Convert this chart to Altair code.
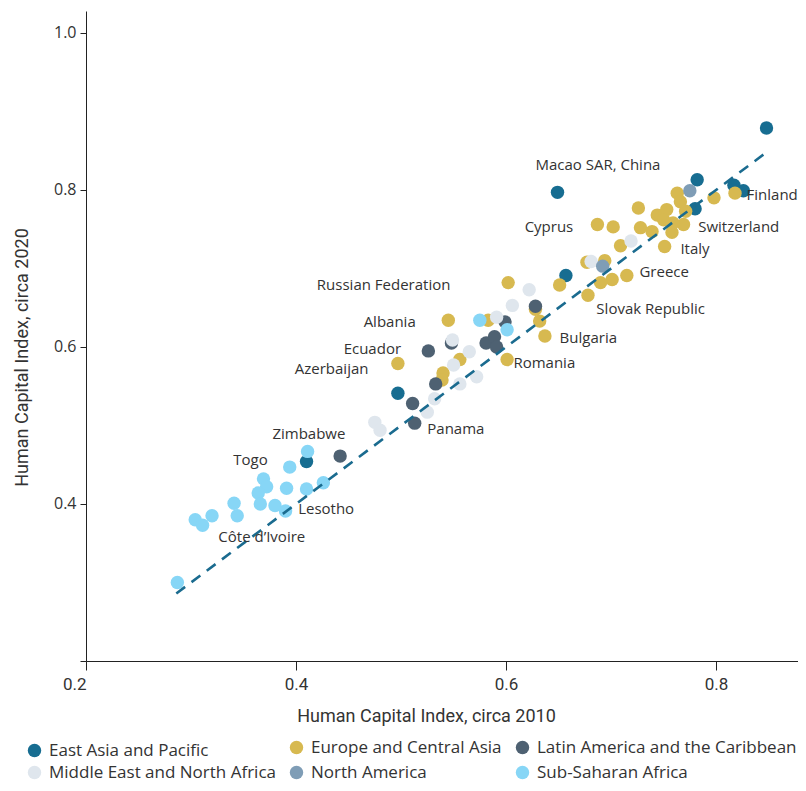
import altair as alt
import pandas as pd

regions = [
    "East Asia and Pacific",
    "Europe and Central Asia",
    "Latin America and the Caribbean",
    "Middle East and North Africa",
    "North America",
    "Sub-Saharan Africa",
]
colors = ["#176d91", "#d7b950", "#4e6172", "#dfe6ed", "#7f9db6", "#87d6f6"]
# legend columns (indices into regions), read row by row in the reference
legend_cols = [[0, 3], [1, 4], [2, 5]]

eap_x = [0.848, 0.782, 0.817, 0.826, 0.780, 0.649, 0.657, 0.497, 0.410]
eap_y = [0.879, 0.813, 0.806, 0.799, 0.776, 0.797, 0.691, 0.541, 0.454]

eca_x = [0.763, 0.766, 0.798, 0.818, 0.726, 0.744, 0.753, 0.771, 0.769, 0.758,
         0.759, 0.750, 0.687, 0.702, 0.728, 0.739, 0.709, 0.751, 0.677, 0.694,
         0.715, 0.701, 0.690, 0.651, 0.678, 0.628, 0.632, 0.637, 0.602, 0.545,
         0.583, 0.601, 0.497, 0.556, 0.540, 0.539]
eca_y = [0.796, 0.785, 0.790, 0.796, 0.777, 0.768, 0.775, 0.773, 0.756, 0.746,
         0.758, 0.762, 0.756, 0.753, 0.752, 0.747, 0.729, 0.728, 0.708, 0.710,
         0.691, 0.686, 0.682, 0.679, 0.666, 0.648, 0.633, 0.614, 0.682, 0.634,
         0.634, 0.584, 0.579, 0.584, 0.567, 0.558]

lac_x = [0.628, 0.526, 0.548, 0.581, 0.589, 0.591, 0.599, 0.533, 0.511, 0.513, 0.442]
lac_y = [0.652, 0.595, 0.605, 0.605, 0.613, 0.600, 0.632, 0.553, 0.528, 0.503, 0.461]

mena_x = [0.622, 0.719, 0.681, 0.606, 0.591, 0.549, 0.565, 0.550, 0.572, 0.556,
          0.532, 0.525, 0.475, 0.480]
mena_y = [0.673, 0.735, 0.709, 0.653, 0.638, 0.609, 0.594, 0.577, 0.562, 0.553,
          0.534, 0.517, 0.504, 0.494]

na_x = [0.775, 0.692]
na_y = [0.799, 0.703]

ssa_x = [0.575, 0.601, 0.411, 0.394, 0.369, 0.372, 0.364, 0.366, 0.341, 0.344,
         0.320, 0.304, 0.311, 0.391, 0.380, 0.390, 0.410, 0.426, 0.287]
ssa_y = [0.634, 0.622, 0.467, 0.447, 0.432, 0.422, 0.414, 0.400, 0.401, 0.385,
         0.385, 0.380, 0.373, 0.420, 0.398, 0.391, 0.419, 0.427, 0.300]

label_left = ["Macao SAR, China", "Finland", "Switzerland", "Italy", "Greece",
              "Slovak Republic", "Bulgaria", "Romania", "Panama", "Lesotho",
              "Côte d’Ivoire"]
label_left_x = [0.628, 0.829, 0.783, 0.766, 0.727, 0.686, 0.651, 0.607, 0.525, 0.402, 0.326]
label_left_y = [0.832, 0.794, 0.753, 0.725, 0.696, 0.649, 0.611, 0.579, 0.495, 0.394, 0.358]

label_right = ["Cyprus", "Russian Federation", "Albania", "Ecuador", "Azerbaijan",
               "Zimbabwe", "Togo"]
label_right_x = [0.664, 0.547, 0.514, 0.500, 0.469, 0.447, 0.373]
label_right_y = [0.753, 0.679, 0.632, 0.598, 0.572, 0.489, 0.456]

diag_v = [0.286, 0.848]

rows = []
for reg, xs, ys in zip(regions,
                       [eap_x, eca_x, lac_x, mena_x, na_x, ssa_x],
                       [eap_y, eca_y, lac_y, mena_y, na_y, ssa_y]):
    for a, b in zip(xs, ys):
        rows.append({"region": reg, "hci2010": a, "hci2020": b})
df = pd.DataFrame(rows)

left_df = pd.DataFrame({"t": label_left, "x": label_left_x, "y": label_left_y})
right_df = pd.DataFrame({"t": label_right, "x": label_right_x, "y": label_right_y})
diag_df = pd.DataFrame({"x": diag_v, "y": diag_v})

xscale = alt.Scale(domain=[0.2, 0.878], nice=False, zero=False)
yscale = alt.Scale(domain=[0.2, 1.028], nice=False, zero=False)

xaxis = alt.Axis(
    values=[0.2, 0.4, 0.6, 0.8], grid=False,
    labelExpr="datum.value === 0.2 ? '0.2\u00a0' : format(datum.value, '.1f')",
    title="Human Capital Index, circa 2010",
    tickSize=9, labelPadding=6, labelFont="Roboto", labelFontSize=17,
    labelColor="#333333", titleFont="Roboto", titleFontSize=18,
    titleFontWeight="normal", titleColor="#333333",
    titleX=340, titleY=55, titleBaseline="middle", titleAlign="center",
    labelAlign={"condition": {"test": "datum.value === 0.2", "value": "right"}, "value": "center"},
    domainColor="#222222", tickColor="#222222",
)
yaxis = alt.Axis(
    values=[0.2, 0.4, 0.6, 0.8, 1.0], grid=False,
    labelExpr="datum.value === 0.2 ? '' : format(datum.value, '.1f')",
    title="Human Capital Index, circa 2020",
    tickSize=6, labelPadding=4, labelFont="Open Sans", labelFontSize=16,
    labelColor="#333333", titleFont="Roboto", titleFontSize=18,
    titleFontWeight="normal", titleColor="#333333",
    titleX=-64, titleY=346, titleAngle=270, titleAlign="center", titleBaseline="middle",
    domainColor="#222222", tickColor="#222222",
)

points = alt.Chart(df).mark_circle(size=180, opacity=1).encode(
    x=alt.X("hci2010:Q", scale=xscale, axis=xaxis),
    y=alt.Y("hci2020:Q", scale=yscale, axis=yaxis),
    color=alt.Color("region:N", scale=alt.Scale(domain=regions, range=colors), legend=None),
)

# one legend column per layer (the marks of these layers are invisible)
legend_pos = [(-60, 731, 4), (202, 728, 7), (428, 728, 7)]
legend_layers = []
for col, (lx, ly, rp) in zip(legend_cols, legend_pos):
    names = [regions[i] for i in col]
    legend_layers.append(
        alt.Chart(df).transform_filter(
            alt.FieldOneOfPredicate(field="region", oneOf=names)
        ).mark_circle(size=180, opacity=0).encode(
            x=alt.X("hci2010:Q", scale=xscale),
            y=alt.Y("hci2020:Q", scale=yscale),
            color=alt.Color(
                "region:N",
                scale=alt.Scale(domain=names, range=[colors[i] for i in col]),
                legend=alt.Legend(
                    title=None, orient="none", legendX=lx, legendY=ly,
                    direction="vertical",
                    symbolType="circle", symbolSize=180, symbolStrokeWidth=0,
                    symbolOpacity=1, labelFont="Open Sans", labelFontSize=17,
                    labelColor="#333333", labelLimit=400, rowPadding=rp,
                    labelOffset=6,
                ),
            ),
        )
    )

line = alt.Chart(diag_df).mark_line(
    strokeDash=[11, 8], strokeWidth=2.6, color="#1a6b8f"
).encode(x=alt.X("x:Q", scale=xscale), y=alt.Y("y:Q", scale=yscale))

text_left = alt.Chart(left_df).mark_text(
    align="left", baseline="middle", font="Open Sans", fontSize=15, color="#333333"
).encode(x=alt.X("x:Q", scale=xscale), y=alt.Y("y:Q", scale=yscale), text="t:N")

text_right = alt.Chart(right_df).mark_text(
    align="right", baseline="middle", font="Open Sans", fontSize=15, color="#333333"
).encode(x=alt.X("x:Q", scale=xscale), y=alt.Y("y:Q", scale=yscale), text="t:N")

chart = alt.layer(points, *legend_layers, line, text_left, text_right).resolve_scale(
    color="independent"
).properties(
    width=712, height=650,
    autosize=alt.AutoSizeParams(type="none"),
    padding={"left": 78, "top": 3, "right": 0, "bottom": 122},
    background="white",
).configure_view(stroke=None)

chart.save("out.html", embed_options={"renderer": "svg", "actions": False})
